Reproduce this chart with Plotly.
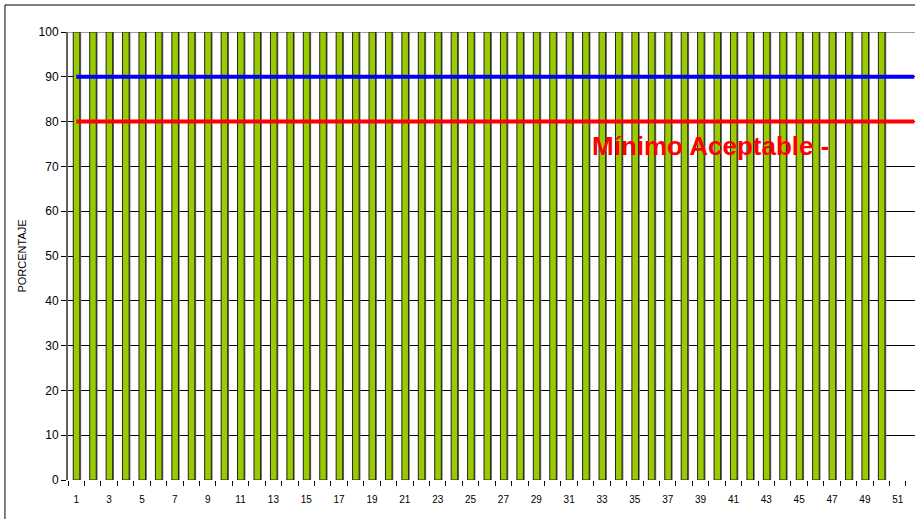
import plotly.graph_objects as go

categories = list(range(1, 51))
values = [100] * 50
line_x = list(range(1, 53))
target_blue = [90] * 52
minimum_red = [80] * 52
x_tick_labels = list(range(1, 52, 2))
y_ticks = list(range(0, 101, 10))

fig = go.Figure()
# shadow of bars
fig.add_trace(go.Bar(x=categories, y=values, width=0.4, offset=-0.10,
                     marker=dict(color="#6b6b6b", line=dict(width=0)),
                     hoverinfo="skip", showlegend=False))
fig.add_trace(go.Bar(x=categories, y=values, width=0.4, offset=-0.18,
                     marker=dict(color="#99CC00", line=dict(color="#222222", width=1)),
                     showlegend=False))
fig.add_trace(go.Scatter(x=line_x, y=target_blue, mode="lines",
                         line=dict(color="#0000FF", width=4), showlegend=False))
fig.add_trace(go.Scatter(x=line_x, y=minimum_red, mode="lines",
                         line=dict(color="#FF0000", width=4), showlegend=False))

fig.add_annotation(x=32.25, y=74.6, xref="x", yref="y", text="<b>Mínimo Aceptable -</b>",
                   showarrow=False, xanchor="left", yanchor="middle",
                   font=dict(family="Liberation Sans, Arial", size=26, color="#FF0000"))

# top border of plot area
fig.add_shape(type="line", xref="paper", yref="y", x0=0, x1=1, y0=100, y1=100,
              line=dict(color="#808080", width=1.5), layer="below")
# outer chart border
fig.add_shape(type="line", xref="paper", yref="paper", x0=-0.0744, x1=1.05, y0=1.0603, y1=1.0603,
              line=dict(color="#000000", width=1))
fig.add_shape(type="line", xref="paper", yref="paper", x0=-0.0744, x1=-0.0744, y0=1.0603, y1=-0.09,
              line=dict(color="#000000", width=1))

fig.update_layout(
    width=915, height=519,
    margin=dict(l=68, r=0, t=32, b=39),
    paper_bgcolor="white", plot_bgcolor="white",
    barmode="overlay",
    font=dict(family="Liberation Sans, Arial", size=11, color="#000000"),
    xaxis=dict(range=[0.5, 52.05], tickvals=x_tick_labels,
               ticktext=[str(v) for v in x_tick_labels],
               ticks="", showgrid=False, zeroline=False, showline=False,
               tickfont=dict(size=10), ticklabelstandoff=12,
               minor=dict(tickvals=[c + 0.5 for c in range(0, 52)], ticks="outside",
                          ticklen=5, tickcolor="#000000", showgrid=False)),
    yaxis=dict(range=[0, 100], tickvals=y_ticks, ticks="outside", ticklen=5,
               tickcolor="#000000", showgrid=True, gridcolor="#000000", gridwidth=1,
               zeroline=False, showline=True, linecolor="#606060", linewidth=2,
               title=dict(text="PORCENTAJE", font=dict(size=11), standoff=10),
               tickfont=dict(size=12)),
)

fig.write_html("out.html", config={"displayModeBar": False},
               post_script="document.body.style.margin='0';document.body.style.overflow='hidden';")
